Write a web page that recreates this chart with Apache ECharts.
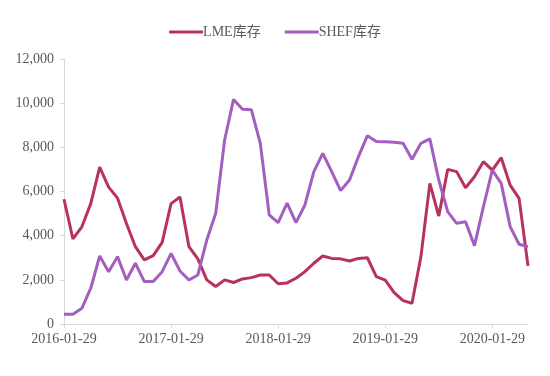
<!DOCTYPE html>
<html>
<head>
<meta charset="utf-8">
<script src="https://cdn.jsdelivr.net/npm/echarts@6/dist/echarts.min.js"></script>
<style>
  html, body { margin: 0; padding: 0; background: #fff; }
  #main { width: 550px; height: 376px; }
</style>
</head>
<body>
<div id="main"></div>
<script>
// 月度日期, 2016-01-29 起, 共53个月
var dates = [];
for (var y = 2016; y <= 2020; y++) {
  for (var m = 1; m <= 12; m++) {
    if (dates.length >= 53) break;
    dates.push(y + "-" + (m < 10 ? "0" + m : m) + "-29");
  }
}

var lmeStock = [
  5650, 3850, 4400, 5450, 7100, 6200, 5700, 4550, 3500, 2900, 3100, 3700,
  5450, 5750, 3500, 2950, 2000, 1700, 2000, 1880, 2040, 2100, 2220, 2220,
  1820, 1860, 2070, 2370, 2750, 3080, 2970, 2950, 2850, 2970, 3000, 2150,
  1990, 1420, 1060, 940, 3050, 6370, 4890, 7000, 6900, 6170, 6670, 7350,
  6970, 7530, 6290, 5690, 2630
];

var shefStock = [
  440, 440, 710, 1620, 3080, 2370, 3050, 1990, 2750, 1920, 1920, 2370,
  3200, 2400, 1990, 2220, 3800, 5010, 8330, 10170, 9720, 9700, 8180, 4940,
  4590, 5470, 4590, 5390, 6900, 7730, 6900, 6040, 6520, 7580, 8530, 8260,
  8250, 8230, 8180, 7460, 8180, 8380, 6520, 5090, 4560, 4630, 3550, 5310,
  6970, 6370, 4410, 3610, 3500
];

var seriesNames = ["LME库存", "SHEF库存"];
var colors = ["#B8325F", "#A45EC0"];

var chart = echarts.init(document.getElementById("main"));

var font = "'Liberation Serif', 'Noto Sans CJK SC', serif";

option = {
  animation: false,
  color: colors,
  legend: {
    top: 20,
    left: "center",
    itemWidth: 34,
    itemHeight: 3,
    itemGap: 24,
    icon: "rect",
    textStyle: {
      color: "#595959",
      fontFamily: font,
      fontSize: 14,
      padding: [0, 0, 0, -5],
    },
    data: seriesNames,
  },
  grid: {
    left: 64,
    right: 22,
    top: 59,
    bottom: 52,
  },
  xAxis: {
    type: "category",
    boundaryGap: false,
    data: dates,
    axisLine: { lineStyle: { color: "#D9D9D9" } },
    axisTick: {
      interval: 11,
      length: 4,
      lineStyle: { color: "#D9D9D9" },
    },
    axisLabel: {
      interval: 11,
      color: "#595959",
      fontFamily: font,
      fontSize: 14,
      margin: 8,
    },
  },
  yAxis: {
    type: "value",
    min: 0,
    max: 12000,
    interval: 2000,
    axisLine: { show: true, lineStyle: { color: "#D9D9D9" } },
    axisTick: { show: true, length: 4, lineStyle: { color: "#D9D9D9" } },
    splitLine: { show: false },
    axisLabel: {
      color: "#595959",
      fontFamily: font,
      fontSize: 14,
      margin: 10,
      formatter: function (v) {
        return v.toLocaleString("en-US");
      },
    },
  },
  series: [
    {
      name: seriesNames[0],
      type: "line",
      data: lmeStock,
      symbol: "none",
      lineStyle: { width: 3 },
    },
    {
      name: seriesNames[1],
      type: "line",
      data: shefStock,
      symbol: "none",
      lineStyle: { width: 3 },
    },
  ],
};

chart.setOption(option);
</script>
</body>
</html>
